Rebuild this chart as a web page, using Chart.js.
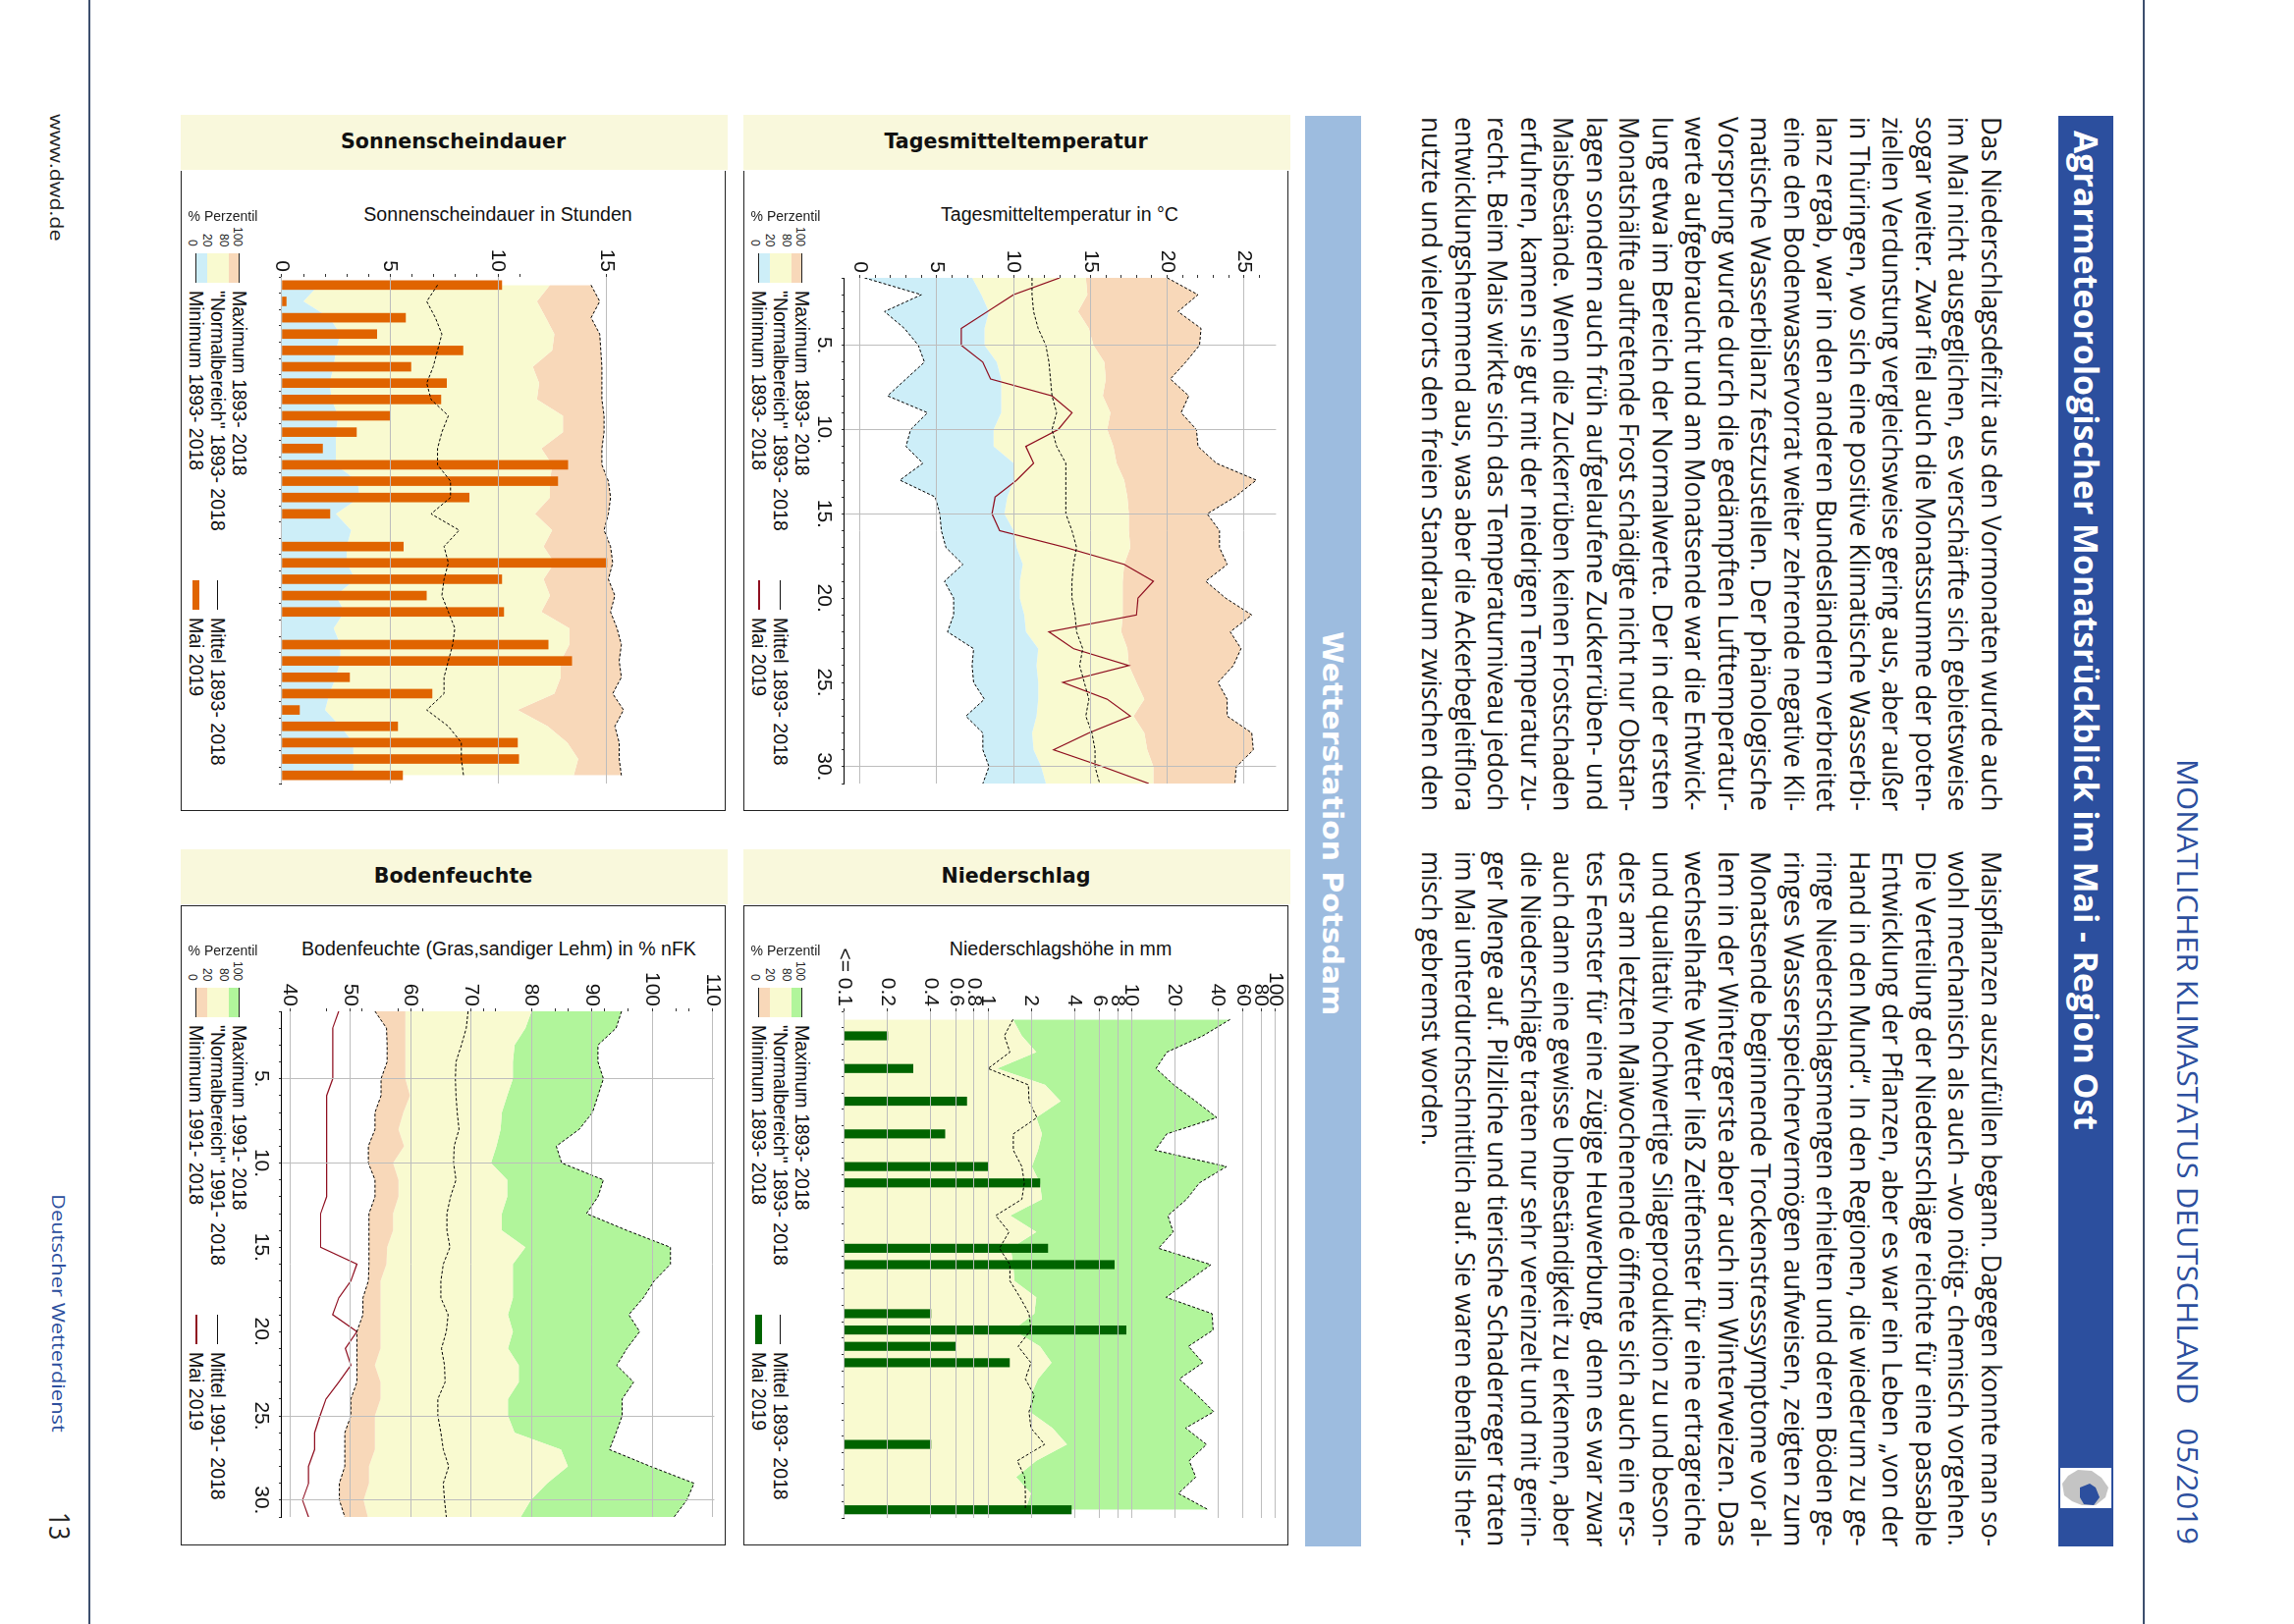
<!DOCTYPE html>
<html lang="de">
<head>
<meta charset="utf-8">
<title>Agrarmeteorologischer Monatsrückblick im Mai - Region Ost</title>
<script src="https://cdn.jsdelivr.net/npm/chart.js@4"></script>
<style>
  html, body { margin: 0; padding: 0; background: #fff; }
  #page { position: relative; width: 2336px; height: 1654px; overflow: hidden; background: #fff; }
  #turned { position: absolute; left: 2336px; top: 0; width: 1654px; height: 2336px; transform-origin: 0 0; transform: rotate(90deg); }
  #turned canvas { position: absolute; }
  .abs { position: absolute; }
  .txt { position: absolute; white-space: pre; line-height: 1; }
</style>
</head>
<body>
<div id="page"></div>
<script>
const days = [1,2,3,4,5,6,7,8,9,10,11,12,13,14,15,16,17,18,19,20,21,22,23,24,25,26,27,28,29,30,31];

// Tagesmitteltemperatur
const tempMin = [0.3,4.0,1.6,2.9,3.8,4.2,3.0,1.8,4.4,3.3,3.0,4.1,2.6,4.9,5.2,5.3,5.6,6.7,5.5,6.1,6.1,5.7,7.4,7.3,7.4,8.1,6.9,8.0,8.0,8.4,8.0];
const tempP20 = [7.3,7.9,8.4,8.1,8.1,8.9,9.2,9.2,9.2,8.7,8.7,10.0,10.0,9.6,9.4,10.0,10.2,10.6,10.4,10.4,10.7,10.8,11.6,11.5,11.6,11.6,11.5,11.2,11.3,11.8,12.1];
const tempP80 = [14.7,14.8,14.2,14.9,15.2,15.9,16.0,15.8,16.3,16.1,16.5,16.7,17.2,17.4,17.5,17.5,17.6,17.2,17.1,17.1,17.1,17.0,17.4,17.5,18.0,18.5,17.8,18.5,18.7,19.1,19.1];
const tempMax = [20.0,22.0,20.7,22.2,22.1,21.2,20.2,21.4,20.9,21.9,22.0,23.2,25.8,24.4,22.6,23.4,23.4,23.9,22.5,23.8,25.5,24.1,24.8,24.3,23.3,23.9,23.9,25.5,25.6,24.5,24.4];
const tempMean = [11.2,11.2,11.3,11.6,12.1,12.3,12.4,12.5,12.8,12.5,12.8,13.4,13.4,13.4,13.4,13.8,14.1,13.9,13.8,13.8,14.0,14.1,14.5,14.3,14.6,14.9,14.7,15.1,15.3,15.3,15.6];
const tempMai = [13.0,10.0,8.3,6.6,6.6,8.0,8.5,12.5,13.8,12.9,10.8,11.3,10.2,8.8,8.6,9.1,13.4,17.2,19.1,18.1,18.0,12.3,13.9,17.5,13.2,16.1,17.6,14.9,12.6,15.8,18.8];
const tempTicks = [0,1,2,3,4,5,6,7,8,9,10,11,12,13,14,15,16,17,18,19,20,21,22,23,24,25,26];
const tempLabels = [0,5,10,15,20,25];
const tempGridDays = [5,10,15,30];

// Niederschlag
const rainP80 = [1.49,1.72,2.17,1.16,2.5,3.2,2.17,2.37,2.23,2.02,2.3,2.37,1.43,2.17,1.44,1.5,1.53,2.17,2.1,1.49,2.3,2.77,2.23,1.99,1.95,2.81,3.55,2.17,1.57,1.99,1.82];
const rainMax = [48.6,31.4,17.6,14.8,19.7,28,39.2,17.6,14.6,45.9,29.7,24.2,17.9,19.5,15.4,35.7,24.9,17.4,36.4,37,24.9,31.4,21.5,28.8,37.4,23.8,33.3,25.2,28,21.2,34.3];
const rainMean = [1.49,1.3,1.42,1.0,1.91,1.93,2.19,1.5,1.5,1.72,1.79,1.72,1.13,1.4,1.2,1.42,1.42,1.67,1.93,1.99,1.62,1.99,1.82,2.1,1.93,1.99,2.48,1.6,1.8,1.82,1.82];
const rainMai = [null,0.2,null,0.3,null,0.71,null,0.5,null,1.0,2.3,null,null,null,2.61,7.57,null,null,0.4,9.16,0.6,1.41,null,null,null,null,0.4,null,null,null,3.81];
const rainTicks = [0.1,0.2,0.4,0.6,0.8,1,2,4,6,8,10,20,40,60,80,100];
const rainGridDays = [5,10,15,20,25];

// Sonnenscheindauer
const sunP20 = [1.7,1.0,2.2,2.7,2.5,2.4,2.2,2.3,2.6,2.5,2.5,2.5,3.5,3.6,2.5,3.2,3.0,3.0,3.4,2.5,2.9,2.4,2.7,2.7,2.5,2.2,2.0,2.7,3.3,3.3,3.3];
const sunP80 = [12.4,11.8,12.2,12.6,12.5,11.6,11.9,11.8,13.0,13.0,12.0,12.5,12.4,12.4,11.7,12.5,12.1,12.6,12.1,12.4,12.0,13.3,13.3,12.9,12.9,12.6,10.9,12.3,13.2,13.7,13.5];
const sunMax = [14.3,14.7,14.3,14.7,14.75,14.8,14.8,14.8,14.9,14.9,14.8,14.8,15.1,15.2,15.1,14.9,15.2,15.3,15.1,15.4,15.2,15.5,15.7,15.6,15.7,15.3,15.8,15.4,15.6,15.6,15.7];
const sunMean = [7.2,6.7,7.1,7.4,7.2,7.0,6.7,6.9,7.7,7.4,7.2,7.2,7.8,7.8,6.9,8.2,7.5,7.7,7.5,7.4,7.7,8.0,7.9,7.7,7.5,7.5,6.7,7.7,8.3,8.3,8.4];
const sunMai = [10.17,0.2,5.72,4.39,8.37,5.97,7.62,7.35,4.99,3.45,1.88,13.22,12.76,8.66,2.22,null,5.62,15.03,10.17,6.68,10.26,null,12.31,13.4,3.13,6.94,0.81,5.35,10.9,10.95,5.58];
const sunTicks = [0,1,2,3,4,5,6,7,8,9,10,11,15];
const sunLabels = [0,5,10,15];
const sunGridDays = [5,15];

// Bodenfeuchte
const soilMin = [54.1,56.0,56.1,56.1,55.1,55.1,54.1,54.1,53.0,53.0,54.1,54.1,53.1,53.1,53.1,53.1,53.0,52.1,52.1,51.1,51.1,51.1,51.1,50.1,50.1,49.1,49.1,49.1,48.2,48.2,49.1];
const soilP20 = [59.1,59.1,59.1,59.1,59.1,59.9,58.8,58.0,58.9,57.1,58.0,58.0,57.1,57.1,56.1,56.0,55.0,55.0,55.0,55.0,55.0,54.1,55.0,55.0,54.1,54.1,54.1,53.1,53.1,52.2,52.9];
const soilP80 = [80.0,79.0,77.2,76.9,76.9,76.0,75.1,74.9,74.2,73.3,76.0,76.0,75.1,75.1,79.0,76.9,76.9,76.9,76.1,76.9,76.1,77.9,77.9,76.1,76.1,77.2,84.9,86.0,82.6,79.9,78.2];
const soilMax = [94.9,94.0,91.0,91.0,91.9,91.0,90.1,87.9,84.1,85.0,91.9,91.0,89.1,95.8,103.0,103.0,100.3,98.5,96.1,97.9,95.8,94.1,96.9,95.0,95.0,94.0,92.9,99.7,106.9,105.7,103.6];
const soilMean = [69.5,69.2,68.4,67.5,67.4,67.5,67.7,68.0,67.2,67.1,67.5,66.6,66.0,66.0,66.5,65.4,65.0,65.0,66.2,65.9,65.1,65.6,65.7,64.5,64.5,65.0,65.4,66.3,65.4,65.6,65.9];
const soilMai = [48.1,47.1,47.1,47.1,47.1,46.1,46.1,46.1,46.1,46.1,46.1,46.1,45.1,45.1,45.1,51.1,50.1,48.1,47.1,51.1,49.2,50.1,48.1,46.0,45.0,44.1,44.1,43.1,43.1,42.1,43.1];
const soilTicks = [40,46,50,52,58,60,62,70,72,74,80,84,86,90,92,96,100,104,106,110];
const soilLabels = [40,50,60,70,80,90,100,110];
const soilGridDays = [5,10,25,30];

const textLeft = [
  'Das Niederschlagsdefizit aus den Vormonaten wurde auch',
  'im Mai nicht ausgeglichen, es verschärfte sich gebietsweise',
  'sogar weiter. Zwar fiel auch die Monatssumme der poten-',
  'ziellen Verdunstung vergleichsweise gering aus, aber außer',
  'in Thüringen, wo sich eine positive Klimatische Wasserbi-',
  'lanz ergab, war in den anderen Bundesländern verbreitet',
  'eine den Bodenwasservorrat weiter zehrende negative Kli-',
  'matische Wasserbilanz festzustellen. Der phänologische',
  'Vorsprung wurde durch die gedämpften Lufttemperatur-',
  'werte aufgebraucht und am Monatsende war die Entwick-',
  'lung etwa im Bereich der Normalwerte. Der in der ersten',
  'Monatshälfte auftretende Frost schädigte nicht nur Obstan-',
  'lagen sondern auch früh aufgelaufene Zuckerrüben- und',
  'Maisbestände. Wenn die Zuckerrüben keinen Frostschaden',
  'erfuhren, kamen sie gut mit der niedrigen Temperatur zu-',
  'recht. Beim Mais wirkte sich das Temperaturniveau jedoch',
  'entwicklungshemmend aus, was aber die Ackerbegleitflora',
  'nutzte und vielerorts den freien Standraum zwischen den'
];
const textRight = [
  'Maispflanzen auszufüllen begann. Dagegen konnte man so-',
  'wohl mechanisch als auch –wo nötig- chemisch vorgehen.',
  'Die Verteilung der Niederschläge reichte für eine passable',
  'Entwicklung der Pflanzen, aber es war ein Leben „von der',
  'Hand in den Mund“. In den Regionen, die wiederum zu ge-',
  'ringe Niederschlagsmengen erhielten und deren Böden ge-',
  'ringes Wasserspeichervermögen aufweisen, zeigten zum',
  'Monatsende beginnende Trockenstresssymptome vor al-',
  'lem in der Wintergerste aber auch im Winterweizen. Das',
  'wechselhafte Wetter ließ Zeitfenster für eine ertragreiche',
  'und qualitativ hochwertige Silageproduktion zu und beson-',
  'ders am letzten Maiwochenende öffnete sich auch ein ers-',
  'tes Fenster für eine zügige Heuwerbung, denn es war zwar',
  'auch dann eine gewisse Unbeständigkeit zu erkennen, aber',
  'die Niederschläge traten nur sehr vereinzelt und mit gerin-',
  'ger Menge auf. Pilzliche und tierische Schaderreger traten',
  'im Mai unterdurchschnittlich auf. Sie waren ebenfalls ther-',
  'misch gebremst worden.'
];

const BLUE = '#cdeef8', BEIGE = '#f9fad0', PEACH = '#f8d8b9', GREEN = '#b1f59b';
const DARK = '#2c4f9e', BAND = '#f9f8dc', GRID = '#bdbdbd', RED = '#8f0f20';
const SANS = '"Liberation Sans", Arial, sans-serif';
const BOLD = '"DejaVu Sans", sans-serif';
const BODY = '"Open Sans", sans-serif';

const page = document.getElementById('page');
const turned = document.createElement('div');

function box(x, y, w, h, css) {
  const d = document.createElement('div');
  d.className = 'abs';
  d.style.cssText += `left:${x}px;top:${y}px;width:${w}px;height:${h}px;${css || ''}`;
  page.appendChild(d);
  return d;
}

// text in page orientation, centred on (cx, cy)
function flatText(str, cx, cy, font, color) {
  const s = document.createElement('span');
  s.className = 'txt';
  s.textContent = str;
  s.style.cssText += `left:${cx}px;top:${cy}px;font:${font};color:${color || '#111'};transform:translate(-50%,-50%);`;
  page.appendChild(s);
  return s;
}

// text turned with the page: x is the image column, y the image row where it starts
function turnedText(str, x, y, font, color, opts) {
  opts = opts || {};
  const s = document.createElement('span');
  s.className = 'txt';
  s.textContent = str;
  s.style.cssText += `left:${y}px;top:${2336 - x}px;font:${font};color:${color || '#111'};transform-origin:0 50%;`;
  turned.appendChild(s);
  let k = opts.scale || 1;
  if (opts.width) k = opts.width / s.offsetWidth;
  const shift = opts.end ? `translateX(-${s.offsetWidth * k}px) ` : '';
  s.style.transform = `${shift}translateY(-50%) scaleX(${k})`;
  return k;
}

function frameAndHead(x, y, w, h, head, topLine) {
  box(x, y + 57, w - 2, h - 57, `box-sizing:border-box;border:1.5px solid #222;${topLine ? '' : 'border-top:none;'}`);
  box(x, y, w, 56, `background:${BAND};`);
  flatText(head, x + w / 2 - 1, y + 27, `bold 20.6px ${BOLD}`, '#111');
}

function legend(x, y, colors, period, markColor, isBar) {
  flatText('% Perzentil', x + 43, y + 103, `14px ${SANS}`, '#222');
  box(x + 15, y + 141, 12, 30, `background:${colors[0]};`);
  box(x + 27, y + 141, 21.5, 30, `background:${colors[1]};`);
  box(x + 48.5, y + 141, 11, 30, `background:${colors[2]};`);
  box(x + 15, y + 141, 1, 30, 'background:#222;');
  box(x + 59, y + 141, 1, 30, 'background:#222;');
  const small = `12px ${SANS}`;
  turnedText('100', x + 58, y + 134, small, '#222', { end: true });
  turnedText('80', x + 44, y + 134, small, '#222', { end: true });
  turnedText('20', x + 27, y + 134, small, '#222', { end: true });
  turnedText('0', x + 12, y + 134, small, '#222', { end: true });
  const big = `19.5px ${SANS}`;
  turnedText(`Maximum ${period}`, x + 59, y + 179, big, '#111');
  turnedText(`"Normalbereich" ${period}`, x + 37, y + 179, big, '#111');
  turnedText(`Minimum ${period}`, x + 15, y + 179, big, '#111');
  turnedText(`Mittel ${period}`, x + 37, y + 512, big, '#111');
  turnedText('Mai 2019', x + 15, y + 512, big, '#111');
  box(x + 37, y + 474, 1, 30, 'background:#111;');
  if (isBar) box(x + 11.5, y + 474, 7, 30, `background:${markColor};`);
  else box(x + 15, y + 474, 1.5, 30, `background:${markColor};`);
}

function lineSet(data, style) {
  return Object.assign({
    type: 'line', data: data, pointRadius: 0, tension: 0, fill: false, order: 1,
    borderWidth: 1, borderColor: '#000', borderDash: [3, 2], spanGaps: true
  }, style || {});
}

function makeChart(plot, yScale, datasets, gridDays, dayMin, dayMax) {
  const canvas = document.createElement('canvas');
  const width = plot.y1 - plot.y0 + 68;
  const height = plot.x1 - plot.x0 + 64;
  canvas.width = width;
  canvas.height = height;
  canvas.style.cssText = `left:${plot.y0 - 64}px;top:${2336 - plot.x1 - 14}px;width:${width}px;height:${height}px;`;
  turned.appendChild(canvas);

  const tickFont = { family: 'Liberation Sans', size: 21 };
  new Chart(canvas.getContext('2d'), {
    type: 'line',
    data: { labels: days, datasets: datasets },
    options: {
      responsive: false,
      animation: false,
      devicePixelRatio: 1,
      layout: { padding: { left: 0, right: 4, top: 14, bottom: 0 } },
      plugins: {
        legend: { display: false },
        tooltip: { enabled: false },
        filler: { drawTime: 'beforeDatasetsDraw', propagate: false }
      },
      scales: {
        x: {
          type: 'linear',
          min: dayMin,
          max: dayMax,
          offset: false,
          afterFit: s => { s.height = 50; },
          border: { display: true, color: '#000', width: 1, z: 1 },
          grid: {
            offset: false,
            z: 1,
            tickLength: 3,
            tickWidth: 1,
            tickColor: '#333',
            color: c => (gridDays.includes(c.tick.value) ? GRID : 'transparent')
          },
          ticks: {
            stepSize: 1,
            autoSkip: false,
            includeBounds: false,
            maxRotation: 0,
            padding: 6,
            color: '#111',
            font: tickFont,
            callback: v => (v % 5 === 0 ? v + '.' : '')
          }
        },
        y: Object.assign({
          afterFit: s => { s.width = 64; },
          afterBuildTicks: s => { s.ticks = yScale.ticks.map(v => ({ value: v })); },
          border: { display: false },
          grid: {
            z: 1,
            tickLength: 3,
            tickWidth: 1,
            tickColor: '#333',
            color: c => (yScale.labels.includes(c.tick.value) ? GRID : 'transparent')
          },
          ticks: {
            autoSkip: false,
            padding: 2,
            color: '#111',
            font: tickFont,
            callback: v => (yScale.labels.includes(v) ? (v === 0.1 ? '<= 0.1' : String(v)) : '')
          }
        }, yScale.range)
      }
    }
  });
}

function buildPage() {
  // page furniture
  box(90, 0, 2, 1654, 'background:#3d4f6e;');
  box(2182, 0, 2, 1654, 'background:#3d4f6e;');
  box(2096, 118, 56, 1457, `background:${DARK};`);
  box(1329, 118, 57, 1457, 'background:#9dbcdf;');

  frameAndHead(757, 117, 557, 709, 'Tagesmitteltemperatur', false);
  frameAndHead(757, 865, 557, 709, 'Niederschlag', true);
  frameAndHead(184, 117, 557, 709, 'Sonnenscheindauer', false);
  frameAndHead(184, 865, 557, 709, 'Bodenfeuchte', true);

  flatText('Tagesmitteltemperatur in °C', 1079, 218, `19.6px ${SANS}`, '#111');
  flatText('Niederschlagshöhe in mm', 1080, 966, `19.6px ${SANS}`, '#111');
  flatText('Sonnenscheindauer in Stunden', 507, 218, `19.6px ${SANS}`, '#111');
  flatText('Bodenfeuchte (Gras,sandiger Lehm) in % nFK', 508, 966, `19.6px ${SANS}`, '#111');

  turned.id = 'turned';
  page.appendChild(turned);

  turnedText('Agrarmeteorologischer Monatsrückblick im Mai - Region Ost', 2125, 133, `bold 34px ${BODY}`, '#fff', { width: 1018 });
  turnedText('MONATLICHER KLIMASTATUS DEUTSCHLAND   05/2019', 2228, 773, `30px ${BODY}`, DARK, { width: 800 });
  turnedText('Wetterstation Potsdam', 1356, 643, `bold 28px ${BOLD}`, '#fff', { width: 391 });
  turnedText('www.dwd.de', 58, 116, `19px ${BODY}`, '#222', { width: 129 });
  turnedText('Deutscher Wetterdienst', 60, 1216, `19px ${BODY}`, DARK, { width: 243 });
  turnedText('13', 61, 1540, `30px ${BODY}`, '#222', { width: 28 });

  let k = 1;
  textLeft.forEach((line, i) => { turnedText(line, 2028 - 33.5 * i, 119, `27px ${BODY}`, '#1a1a1a', { width: 707 }); });
  textRight.forEach((line, i) => {
    if (i < textRight.length - 1) k = turnedText(line, 2028 - 33.5 * i, 867, `27px ${BODY}`, '#1a1a1a', { width: 708 });
    else turnedText(line, 2028 - 33.5 * i, 867, `27px ${BODY}`, '#1a1a1a', { scale: k });
  });

  // small region map in the title band
  const map = box(2098, 1495, 52, 41, 'background:#fff;');
  map.innerHTML = '<svg width="52" height="41" viewBox="0 0 52 41">'
    + '<path d="M2 16 L8 8 L18 2 L32 3 L42 10 L49 20 L46 30 L36 38 L22 38 L12 34 L4 28 Z" fill="#c4c4c4"/>'
    + '<path d="M20 20 L30 16 L36 20 L40 30 L34 38 L24 37 L20 30 Z" fill="#2c4f9e"/></svg>';

  legend(757, 117, [BLUE, BEIGE, PEACH], '1893- 2018', RED, false);
  legend(757, 865, [PEACH, BEIGE, GREEN], '1893- 2018', '#006400', true);
  legend(184, 117, [BLUE, BEIGE, PEACH], '1893- 2018', '#e06400', true);
  legend(184, 865, [PEACH, BEIGE, GREEN], '1991- 2018', RED, false);

  makeChart({ x0: 860, x1: 1300, y0: 283, y1: 800 },
    { ticks: tempTicks, labels: tempLabels, range: { min: -1, max: 27.08 } },
    [
      lineSet(tempMin),
      lineSet(tempP20, { borderWidth: 0, fill: { target: 0 }, backgroundColor: BLUE }),
      lineSet(tempP80, { borderWidth: 0, fill: { target: 1 }, backgroundColor: BEIGE }),
      lineSet(tempMax, { fill: { target: 2 }, backgroundColor: PEACH }),
      lineSet(tempMean),
      lineSet(tempMai, { borderColor: RED, borderDash: [], borderWidth: 1.2 })
    ], tempGridDays, 1, 31);

  makeChart({ x0: 860, x1: 1299, y0: 1030, y1: 1548 },
    { ticks: rainTicks, labels: rainTicks, range: { type: 'logarithmic', min: 0.1, max: 100 } },
    [
      lineSet(rainP80, { borderWidth: 0, fill: 'start', backgroundColor: BEIGE }),
      lineSet(rainMax, { fill: { target: 0 }, backgroundColor: GREEN }),
      lineSet(rainMean),
      { type: 'bar', data: rainMai, order: 2, barThickness: 8.5, backgroundColor: '#006400' }
    ], rainGridDays, 0.5, 31.5);

  makeChart({ x0: 287, x1: 728, y0: 282, y1: 800 },
    { ticks: sunTicks, labels: sunLabels, range: { min: 0, max: 20 } },
    [
      lineSet(sunP20, { borderWidth: 0, fill: 'start', backgroundColor: BLUE }),
      lineSet(sunP80, { borderWidth: 0, fill: { target: 0 }, backgroundColor: BEIGE }),
      lineSet(sunMax, { fill: { target: 1 }, backgroundColor: PEACH }),
      lineSet(sunMean),
      { type: 'bar', data: sunMai, order: 2, barThickness: 9, backgroundColor: '#e06400' }
    ], sunGridDays, 0.5, 31.5);

  makeChart({ x0: 287, x1: 728, y0: 1030, y1: 1547 },
    { ticks: soilTicks, labels: soilLabels, range: { min: 38.68, max: 110.26 } },
    [
      lineSet(soilMin),
      lineSet(soilP20, { borderWidth: 0, fill: { target: 0 }, backgroundColor: PEACH }),
      lineSet(soilP80, { borderWidth: 0, fill: { target: 1 }, backgroundColor: BEIGE }),
      lineSet(soilMax, { fill: { target: 2 }, backgroundColor: GREEN }),
      lineSet(soilMean),
      lineSet(soilMai, { borderColor: RED, borderDash: [], borderWidth: 1.2 })
    ], soilGridDays, 1, 31);
}

buildPage();
</script>
</body>
</html>
